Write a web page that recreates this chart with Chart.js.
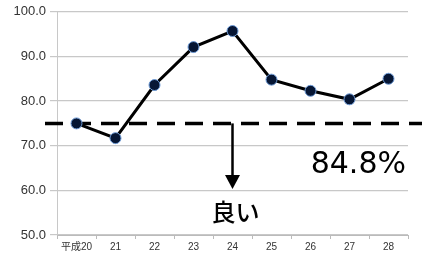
<!DOCTYPE html>
<html>
<head>
<meta charset="utf-8">
<script src="https://cdn.jsdelivr.net/npm/chart.js@4.4.0/dist/chart.umd.min.js"></script>
<style>
  html, body { margin: 0; padding: 0; background: #fff; }
  #wrap { width: 422px; height: 260px; }
</style>
</head>
<body>
<div id="wrap"><canvas id="grafico"></canvas></div>
<script>
// Dados do gráfico
const anos = ['平成20', '21', '22', '23', '24', '25', '26', '27', '28'];
const valores = [75.0, 71.7, 83.6, 92.1, 95.7, 84.8, 82.3, 80.4, 85.0];
const meta = 75.0;
const setaFim = 60.3;
const rotuloMeta = '84.8%';
const rotuloSeta = '良い';

// Linha tracejada, seta e textos
const anotacoes = {
    id: 'anotacoes',
    beforeDatasetsDraw(chart) {
        const c = chart.ctx;
        const x = chart.scales.x;
        const y = chart.scales.y;
        const yMeta = y.getPixelForValue(meta);
        c.save();
        c.strokeStyle = '#000';
        c.lineWidth = 3.5;
        c.setLineDash([18, 10]);
        c.beginPath();
        c.moveTo(45, yMeta);
        c.lineTo(chart.width, yMeta);
        c.stroke();
        c.setLineDash([]);

        // seta
        const xs = x.getPixelForValue(4);
        const yFim = y.getPixelForValue(setaFim);
        c.lineWidth = 2.5;
        c.beginPath();
        c.moveTo(xs, yMeta);
        c.lineTo(xs, yFim - 12);
        c.stroke();
        c.fillStyle = '#000';
        c.beginPath();
        c.moveTo(xs - 7.5, yFim - 14);
        c.lineTo(xs + 7.5, yFim - 14);
        c.lineTo(xs, yFim);
        c.closePath();
        c.fill();

        c.font = '500 24px "Noto Sans CJK JP"';
        c.textAlign = 'center';
        c.textBaseline = 'middle';
        c.fillText(rotuloSeta, xs + 3, yFim + 23);

        c.font = '30px "DejaVu Sans", sans-serif';
        c.textAlign = 'right';
        c.textBaseline = 'alphabetic';
        c.fillText(rotuloMeta, 406, y.getPixelForValue(63.9));
        c.restore();
    }
};

const ctx = document.getElementById('grafico').getContext('2d');
const chart = new Chart(ctx, {
    type: 'line',
    data: {
        labels: anos,
        datasets: [
            {
                data: valores,
                borderColor: '#000',
                borderWidth: 3,
                pointRadius: 5.5,
                pointBackgroundColor: '#061634',
                pointBorderColor: '#6d9ad6',
                pointBorderWidth: 1,
                tension: 0
            }
        ]
    },
    options: {
        responsive: true,
        maintainAspectRatio: false,
        animation: false,
        layout: { padding: { top: 11, right: 14, left: 0, bottom: 5 } },
        plugins: {
            legend: { display: false },
            title: { display: false },
            tooltip: { enabled: false }
        },
        scales: {
            x: {
                offset: true,
                grid: { display: true, drawOnChartArea: false, color: '#bbb', tickLength: 4, offset: true },
                border: { color: '#bbb' },
                ticks: { color: '#333', font: { size: 10, family: '"Liberation Sans", "Noto Sans CJK JP", sans-serif' }, padding: 2, maxRotation: 0 }
            },
            y: {
                min: 50,
                max: 100,
                afterFit: function(scale) { scale.width = 57; },
                grid: { color: '#c8c8c8', tickLength: 7, lineWidth: 1.2 },
                border: { color: '#c8c8c8' },
                ticks: {
                    stepSize: 10,
                    color: '#333',
                    padding: 4,
                    font: { size: 13, family: '"Liberation Sans", sans-serif' },
                    callback: function(value) {
                        return value.toFixed(1);
                    }
                }
            }
        }
    },
    plugins: [anotacoes]
});
</script>
</body>
</html>
